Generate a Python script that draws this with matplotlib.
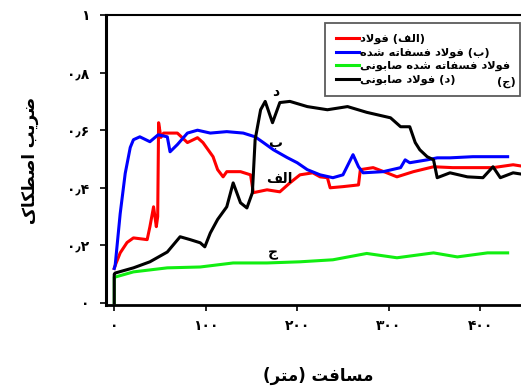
import matplotlib
matplotlib.use('Agg')
import matplotlib.pyplot as plt

# ---- data ----
x_red = [0, 1, 6.5, 14, 21, 36, 39, 43, 46, 47.5, 48.5, 51, 54, 69, 80, 91, 97, 108, 113, 119, 123, 138, 149, 152,
         167, 181, 192, 203, 217, 225, 233, 236, 250, 267, 269, 283, 298, 309, 327, 349, 370, 392, 414, 436, 450]
y_red = [0.12, 0.13, 0.174, 0.21, 0.226, 0.22, 0.265, 0.334, 0.265, 0.30, 0.626, 0.575, 0.59, 0.59, 0.557, 0.574,
         0.557, 0.508, 0.463, 0.438, 0.456, 0.456, 0.445, 0.383, 0.393, 0.386, 0.417, 0.445, 0.452, 0.438, 0.435,
         0.40, 0.404, 0.41, 0.463, 0.47, 0.452, 0.438, 0.456, 0.473, 0.47, 0.47, 0.47, 0.48, 0.473]

x_blue = [0, 1, 6.5, 12, 17.5, 21, 28, 39, 48, 58, 61, 69, 80, 91, 105, 123, 141, 154, 163, 174, 189, 200, 211,
          225, 239, 250, 261, 267, 272, 294, 313, 318, 323, 342, 353, 367, 392, 411, 430]
y_blue = [0.12, 0.13, 0.31, 0.45, 0.54, 0.567, 0.577, 0.56, 0.584, 0.577, 0.525, 0.55, 0.59, 0.60, 0.59, 0.595,
          0.59, 0.577, 0.557, 0.532, 0.505, 0.487, 0.463, 0.445, 0.435, 0.445, 0.515, 0.473, 0.452, 0.456, 0.47,
          0.497, 0.487, 0.497, 0.504, 0.504, 0.508, 0.508, 0.508]

x_green = [0, 0, 1, 21, 58, 94, 130, 167, 203, 239, 276, 309, 349, 375, 408, 430]
y_green = [0, 0.09, 0.09, 0.108, 0.122, 0.125, 0.139, 0.139, 0.143, 0.15, 0.172, 0.157, 0.174, 0.16, 0.174, 0.174]

x_black = [0, 0, 1, 21, 39, 58, 72, 83, 94, 99, 105, 113, 123, 130, 138, 145, 151, 154, 160, 165, 173, 181, 192,
           211, 233, 255, 276, 302, 313, 323, 329, 334, 342, 349, 353, 367, 386, 403, 414, 422, 436, 450]
y_black = [0, 0.10, 0.104, 0.122, 0.143, 0.177, 0.23, 0.22, 0.209, 0.195, 0.243, 0.29, 0.334, 0.417, 0.348, 0.33,
           0.383, 0.567, 0.671, 0.70, 0.626, 0.696, 0.70, 0.682, 0.671, 0.682, 0.662, 0.643, 0.612, 0.612, 0.557,
           0.532, 0.508, 0.497, 0.435, 0.452, 0.438, 0.435, 0.473, 0.435, 0.452, 0.445]

xticks = [0, 100, 200, 300, 400]
xticklabels = ['۰', '۱۰۰', '۲۰۰', '۳۰۰', '۴۰۰']
yticks = [0, 0.2, 0.4, 0.6, 0.8, 1.0]
yticklabels = ['۰', '۰٫۲', '۰٫۴', '۰٫۶', '۰٫۸', '۱']

legend_labels = ['(الف) فولاد', '(ب) فولاد فسفاته شده', 'فولاد فسفاته شده صابونی', '(د) فولاد صابونی']
xlabel = 'مسافت (متر)'
ylabel = 'ضریب اصطکاک'


# ---- tiny arabic/persian shaper (matplotlib has no text shaping) ----
FORMS = {  # isolated, final, initial, medial
    'ا': ('\uFE8D', '\uFE8E', None, None),
    'د': ('\uFEA9', '\uFEAA', None, None),
    'ر': ('\uFEAD', '\uFEAE', None, None),
    'و': ('\uFEED', '\uFEEE', None, None),
    'ل': ('\uFEDD', '\uFEDE', '\uFEDF', '\uFEE0'),
    'ف': ('\uFED1', '\uFED2', '\uFED3', '\uFED4'),
    'ب': ('\uFE8F', '\uFE90', '\uFE91', '\uFE92'),
    'ق': ('\uFED5', '\uFED6', '\uFED7', '\uFED8'),
    'س': ('\uFEB1', '\uFEB2', '\uFEB3', '\uFEB4'),
    'ت': ('\uFE95', '\uFE96', '\uFE97', '\uFE98'),
    'ه': ('\uFEE9', '\uFEEA', '\uFEEB', '\uFEEC'),
    'ش': ('\uFEB5', '\uFEB6', '\uFEB7', '\uFEB8'),
    'ص': ('\uFEB9', '\uFEBA', '\uFEBB', '\uFEBC'),
    'ن': ('\uFEE5', '\uFEE6', '\uFEE7', '\uFEE8'),
    'ی': ('\uFBFC', '\uFBFD', '\uFBFE', '\uFBFF'),
    'ج': ('\uFE9D', '\uFE9E', '\uFE9F', '\uFEA0'),
    'م': ('\uFEE1', '\uFEE2', '\uFEE3', '\uFEE4'),
    'ض': ('\uFEBD', '\uFEBE', '\uFEBF', '\uFEC0'),
    'ط': ('\uFEC1', '\uFEC2', '\uFEC3', '\uFEC4'),
    'ک': ('\uFB8E', '\uFB8F', '\uFB90', '\uFB91'),
}


def fa(s):
    out = []
    i = 0
    n = len(s)
    while i < n:
        c = s[i]
        if c not in FORMS:
            out.append({'(': ')', ')': '('}.get(c, c))
            i += 1
            continue
        prev = s[i - 1] if i > 0 else ''
        pj = prev in FORMS and FORMS[prev][2] is not None
        if c == 'ل' and i + 1 < n and s[i + 1] == 'ا':
            out.append('\uFEFC' if pj else '\uFEFB')
            i += 2
            continue
        nxt = s[i + 1] if i + 1 < n else ''
        nj = FORMS[c][2] is not None and nxt in FORMS
        f = FORMS[c]
        if pj and nj:
            g = f[3]
        elif pj:
            g = f[1]
        elif nj:
            g = f[2]
        else:
            g = f[0]
        out.append(g)
        i += 1
    return ''.join(out[::-1])


plt.rcParams['font.family'] = ['DejaVu Sans']
plt.rcParams['font.weight'] = 'bold'

fig = plt.figure(figsize=(5.21, 3.89), dpi=100)
# right side of the axes runs off the picture like in the original
ax = fig.add_axes([106 / 521, 84 / 389, 430 / 521, 290 / 389])

lw = 2.2
ax.plot(x_red, y_red, color='#ff0000', lw=lw, label=fa(legend_labels[0]))
ax.plot(x_blue, y_blue, color='#0000ff', lw=lw, label=fa(legend_labels[1]))
ax.plot(x_green, y_green, color='#11ee11', lw=lw, label=fa(legend_labels[2]))
ax.plot(x_black, y_black, color='black', lw=lw, label=fa(legend_labels[3]))

ax.set_xlim(-9, 461)
ax.set_ylim(-0.007, 1.0)
ax.set_xticks(xticks)
ax.set_xticklabels(xticklabels, fontsize=10, fontweight='bold')
ax.set_yticks(yticks)
ax.set_yticklabels(yticklabels, fontsize=10, fontweight='bold')
ax.tick_params(axis='x', direction='out', length=4, width=1.2, pad=6)
ax.tick_params(axis='y', direction='out', length=4, width=1.2, pad=8)

ax.spines['left'].set_linewidth(2.2)
ax.spines['bottom'].set_linewidth(2.0)
ax.spines['top'].set_linewidth(1.5)

# curve tags
ax.text(176, 0.735, fa('د'), fontsize=10, fontweight='bold', ha='center', va='center')
ax.text(176, 0.557, fa('ب'), fontsize=10, fontweight='bold', ha='center', va='center')
ax.text(181, 0.43, fa('الف'), fontsize=10, fontweight='bold', ha='center', va='center')
ax.text(173, 0.175, fa('ج'), fontsize=10, fontweight='bold', ha='center', va='center')

leg = ax.legend(loc='upper left', bbox_to_anchor=(325 / 521, 1 - 97 / 389, 195 / 521, 74 / 389),
                bbox_transform=fig.transFigure, mode='expand',
                fontsize=8.2, frameon=True, fancybox=False, edgecolor='#333333', handlelength=2.0,
                labelspacing=0.3, borderpad=0.95, handletextpad=0.15, borderaxespad=0)
leg.get_frame().set_linewidth(1.3)
fig.text(506 / 521, 1 - 82 / 389, fa('(ج)'), fontsize=8.2, fontweight='bold', ha='center', va='center')

fig.text(318 / 521, 1 - 376 / 389, fa(xlabel), fontsize=12, fontweight='bold', ha='center', va='center')
fig.text(30 / 521, 1 - 160 / 389, fa(ylabel), fontsize=12, fontweight='bold', ha='center', va='center',
         rotation=90)

fig.savefig('out.png', dpi=100)
